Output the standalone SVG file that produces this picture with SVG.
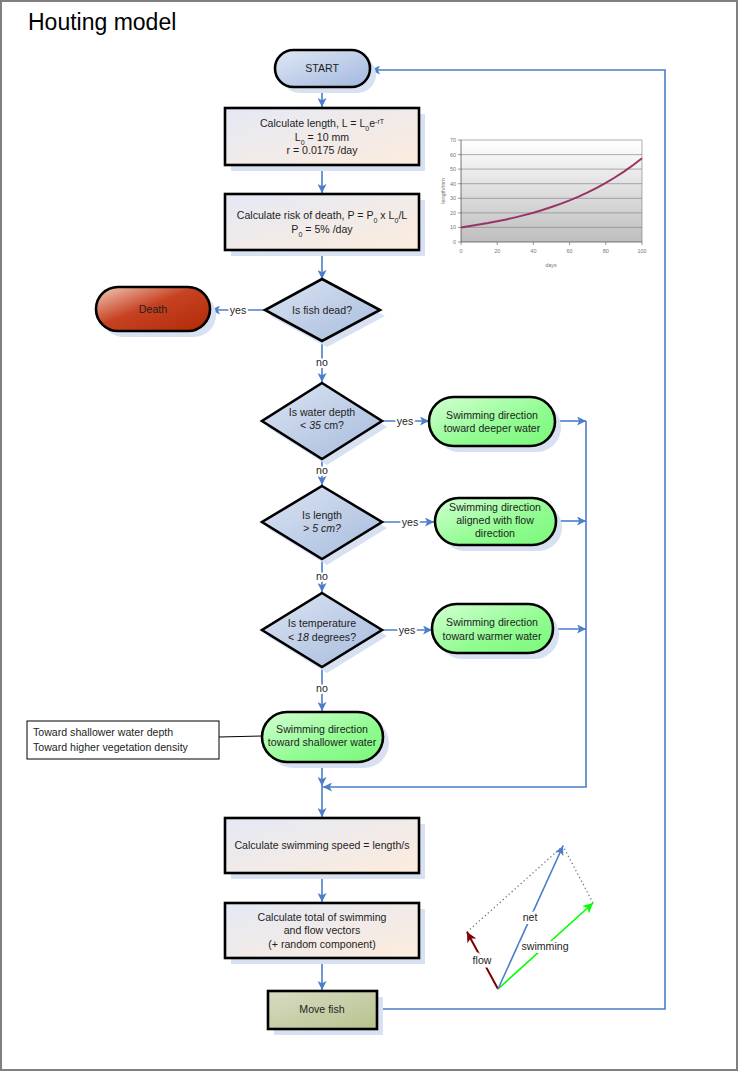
<svg xmlns="http://www.w3.org/2000/svg" width="739" height="1072" viewBox="0 0 739 1072">
<defs>
<style>
text{font-family:"Liberation Sans",Arial,sans-serif;font-size:10.6px;fill:#1e1e1e}
.c{text-anchor:middle}
.nd{stroke:#000;stroke-width:2.6}
.sh{fill:#D8E1F1}
.cn{fill:none;stroke:#4A7EC8;stroke-width:1.6}
.lb{paint-order:stroke;stroke:#fff;stroke-width:4px;stroke-linejoin:round}
.tk text{font-size:5.5px;fill:#777}
.gl{stroke:#7a7a7a;stroke-width:0.6}
</style>
<linearGradient id="gBox" x1="0" y1="0" x2="1" y2="1"><stop offset="0" stop-color="#E4E9F5"/><stop offset="1" stop-color="#FDECDD"/></linearGradient>
<linearGradient id="gDia" x1="0" y1="0" x2="1" y2="1"><stop offset="0" stop-color="#DCE4F2"/><stop offset="1" stop-color="#A6BBDD"/></linearGradient>
<linearGradient id="gGrn" x1="0" y1="0" x2="1" y2="1"><stop offset="0" stop-color="#D4FFD4"/><stop offset="0.6" stop-color="#90FC90"/><stop offset="1" stop-color="#7AF87A"/></linearGradient>
<linearGradient id="gSt" x1="0" y1="0" x2="1" y2="1"><stop offset="0" stop-color="#E0E8F4"/><stop offset="1" stop-color="#A2B8DF"/></linearGradient>
<linearGradient id="gDe" x1="0" y1="0" x2="1" y2="1"><stop offset="0" stop-color="#F4CDBB"/><stop offset="0.45" stop-color="#C64222"/><stop offset="1" stop-color="#B02A06"/></linearGradient>
<linearGradient id="gMv" x1="0" y1="0" x2="1" y2="1"><stop offset="0" stop-color="#D9DCC4"/><stop offset="1" stop-color="#B6C28E"/></linearGradient>
<linearGradient id="gPlot" x1="0" y1="0" x2="0" y2="1"><stop offset="0" stop-color="#FFFFFF"/><stop offset="1" stop-color="#BEBEBE"/></linearGradient>
<marker id="aB" viewBox="0 0 10 10" refX="10" refY="5" markerWidth="10" markerHeight="9" markerUnits="userSpaceOnUse" orient="auto"><path d="M0,0 L10,5 L0,10 L2.5,5 Z" fill="#4A7EC8"/></marker>
<marker id="aR" viewBox="0 0 10 10" refX="10" refY="5" markerWidth="10" markerHeight="10" markerUnits="userSpaceOnUse" orient="auto"><path d="M0,0 L10,5 L0,10 L2.5,5 Z" fill="#7F0000"/></marker>
<marker id="aG" viewBox="0 0 10 10" refX="10" refY="5" markerWidth="11" markerHeight="10" markerUnits="userSpaceOnUse" orient="auto"><path d="M0,0 L10,5 L0,10 L2.5,5 Z" fill="#00FF00"/></marker>
</defs>
<rect x="0" y="0" width="739" height="1072" fill="#fff"/>
<rect x="1" y="1" width="736" height="1069" fill="none" stroke="#808080" stroke-width="2"/>
<text x="28" y="30" style="font-size:23px;fill:#000">Houting model</text>

<g id="connectors">
<path class="cn" d="M322,87 V107" marker-end="url(#aB)"/>
<path class="cn" d="M322,165 V193" marker-end="url(#aB)"/>
<path class="cn" d="M322,250 V279" marker-end="url(#aB)"/>
<path class="cn" d="M265,310 H211" marker-end="url(#aB)"/>
<path class="cn" d="M322,341 V382" marker-end="url(#aB)"/>
<path class="cn" d="M382,421 H429" marker-end="url(#aB)"/>
<path class="cn" d="M322,459 V485" marker-end="url(#aB)"/>
<path class="cn" d="M382,522 H434" marker-end="url(#aB)"/>
<path class="cn" d="M322,559 V592" marker-end="url(#aB)"/>
<path class="cn" d="M382,630 H432" marker-end="url(#aB)"/>
<path class="cn" d="M322,667 V711" marker-end="url(#aB)"/>
<path class="cn" d="M555,421 H586" marker-end="url(#aB)"/>
<path class="cn" d="M556,521 H586" marker-end="url(#aB)"/>
<path class="cn" d="M553,629 H586" marker-end="url(#aB)"/>
<path class="cn" d="M586,421 V787 H323" marker-end="url(#aB)"/>
<path class="cn" d="M322,762 V786" marker-end="url(#aB)"/>
<path class="cn" d="M322,786 V817" marker-end="url(#aB)"/>
<path class="cn" d="M322,873 V902" marker-end="url(#aB)"/>
<path class="cn" d="M322,958 V990" marker-end="url(#aB)"/>
<path class="cn" d="M377,1009 H665 V70 H371" marker-end="url(#aB)"/>
<path d="M219,737 L262,736" stroke="#000" stroke-width="1"/>
<text class="c lb" x="238" y="314">yes</text>
<text class="c lb" x="405" y="425">yes</text>
<text class="c lb" x="410" y="526">yes</text>
<text class="c lb" x="407" y="634">yes</text>
<text class="c lb" x="322" y="366">no</text>
<text class="c lb" x="322" y="474">no</text>
<text class="c lb" x="322" y="580">no</text>
<text class="c lb" x="322" y="692">no</text>
</g>

<g id="start">
<rect class="sh" x="281" y="56" width="95" height="37" rx="18.5"/>
<rect class="nd" x="275" y="50" width="95" height="37" rx="18.5" fill="url(#gSt)"/>
<text class="c" x="322" y="72">START</text>
</g>

<g id="calc-length">
<rect class="sh" x="231" y="114" width="194" height="57"/>
<rect class="nd" x="225" y="108" width="194" height="57" fill="url(#gBox)"/>
<text class="c" x="322" y="127">Calculate length, L = L<tspan font-size="7" baseline-shift="sub">0</tspan>e<tspan font-size="7" baseline-shift="super">-rT</tspan></text>
<text class="c" x="322" y="141">L<tspan font-size="7" baseline-shift="sub">0</tspan> = 10 mm</text>
<text class="c" x="322" y="154">r = 0.0175 /day</text>
</g>

<g id="calc-risk">
<rect class="sh" x="231" y="200" width="194" height="56"/>
<rect class="nd" x="225" y="194" width="194" height="56" fill="url(#gBox)"/>
<text class="c" x="322" y="219">Calculate risk of death, P = P<tspan font-size="7" baseline-shift="sub">0</tspan> x L<tspan font-size="7" baseline-shift="sub">0</tspan>/L</text>
<text class="c" x="322" y="233">P<tspan font-size="7" baseline-shift="sub">0</tspan> = 5% /day</text>
</g>

<g id="growth-chart">
<rect x="461" y="140" width="181" height="102" fill="url(#gPlot)"/>
<g class="gl">
<line x1="461" y1="140" x2="642" y2="140"/>
<line x1="461" y1="154.6" x2="642" y2="154.6"/>
<line x1="461" y1="169.1" x2="642" y2="169.1"/>
<line x1="461" y1="183.7" x2="642" y2="183.7"/>
<line x1="461" y1="198.3" x2="642" y2="198.3"/>
<line x1="461" y1="212.9" x2="642" y2="212.9"/>
<line x1="461" y1="227.4" x2="642" y2="227.4"/>
<line x1="642" y1="140" x2="642" y2="242"/>
</g>
<path d="M461,140 V242 H642" fill="none" stroke="#555" stroke-width="0.8"/>
<path d="M458,140 H461 M458,154.6 H461 M458,169.1 H461 M458,183.7 H461 M458,198.3 H461 M458,212.9 H461 M458,227.4 H461 M458,242 H461 M461,242 V245 M497.2,242 V245 M533.4,242 V245 M569.6,242 V245 M605.8,242 V245 M642,242 V245" stroke="#555" stroke-width="0.6"/>
<polyline points="461,227.4 470,226.1 479.1,224.6 488.1,223.1 497.2,221.3 506.2,219.5 515.3,217.4 524.3,215.1 533.4,212.7 542.4,210 551.5,207 560.5,203.9 569.6,200.4 578.6,196.6 587.7,192.4 596.7,187.9 605.8,182.9 614.8,177.5 623.9,171.6 632.9,165.2 642,158.2" fill="none" stroke="#993366" stroke-width="2"/>
<g class="tk" text-anchor="end">
<text x="456" y="142">70</text><text x="456" y="156.6">60</text><text x="456" y="171.1">50</text><text x="456" y="185.7">40</text><text x="456" y="200.3">30</text><text x="456" y="214.9">20</text><text x="456" y="229.4">10</text><text x="456" y="244">0</text>
</g>
<g class="tk" text-anchor="middle">
<text x="461" y="253">0</text><text x="497.2" y="253">20</text><text x="533.4" y="253">40</text><text x="569.6" y="253">60</text><text x="605.8" y="253">80</text><text x="642" y="253">100</text>
<text x="551" y="267">days</text>
<text x="0" y="0" transform="translate(445,191) rotate(-90)">length/mm</text>
</g>
</g>

<g id="is-dead">
<polygon class="sh" points="327,285 385,316 327,347 270,316"/>
<polygon class="nd" points="322,279 380,310 322,341 265,310" fill="url(#gDia)"/>
<text class="c" x="322" y="314">Is fish dead?</text>
</g>

<g id="death">
<rect class="sh" x="101" y="293" width="115" height="44" rx="22"/>
<rect class="nd" x="96" y="287" width="114" height="44" rx="22" fill="url(#gDe)"/>
<text class="c" x="153" y="313">Death</text>
</g>

<g id="is-depth">
<polygon class="sh" points="327,389 387,427 327,465 267,427"/>
<polygon class="nd" points="322,383 382,421 322,459 262,421" fill="url(#gDia)"/>
<text class="c" x="322" y="416">Is water depth</text>
<text class="c" x="322" y="429">&lt; <tspan font-style="italic">35</tspan> cm?</text>
</g>

<g id="swim-deeper">
<rect class="sh" x="435" y="403" width="126" height="49" rx="24.5"/>
<rect class="nd" x="429" y="397" width="126" height="49" rx="24.5" fill="url(#gGrn)"/>
<text class="c" x="492" y="419">Swimming direction</text>
<text class="c" x="492" y="432">toward deeper water</text>
</g>

<g id="is-length">
<polygon class="sh" points="327,492 387,528 327,565 267,528"/>
<polygon class="nd" points="322,486 382,522 322,559 262,522" fill="url(#gDia)"/>
<text class="c" x="322" y="519">Is length</text>
<text class="c" x="322" y="532" font-style="italic">&gt; 5 cm?</text>
</g>

<g id="swim-flow">
<rect class="sh" x="441" y="504" width="121" height="47" rx="23.5"/>
<rect class="nd" x="435" y="498" width="121" height="47" rx="23.5" fill="url(#gGrn)"/>
<text class="c" x="495" y="511">Swimming direction</text>
<text class="c" x="495" y="524">aligned with flow</text>
<text class="c" x="495" y="537">direction</text>
</g>

<g id="is-temp">
<polygon class="sh" points="327,599 387,636 327,673 267,636"/>
<polygon class="nd" points="322,593 382,630 322,667 262,630" fill="url(#gDia)"/>
<text class="c" x="322" y="627">Is temperature</text>
<text class="c" x="322" y="641">&lt; <tspan font-style="italic">18</tspan> degrees?</text>
</g>

<g id="swim-warmer">
<rect class="sh" x="438" y="610" width="121" height="49" rx="24.5"/>
<rect class="nd" x="432" y="604" width="121" height="49" rx="24.5" fill="url(#gGrn)"/>
<text class="c" x="492" y="626">Swimming direction</text>
<text class="c" x="492" y="640">toward warmer water</text>
</g>

<g id="swim-shallower">
<rect class="sh" x="268" y="718" width="121" height="50" rx="25"/>
<rect class="nd" x="262" y="712" width="121" height="50" rx="25" fill="url(#gGrn)"/>
<text class="c" x="322" y="733">Swimming direction</text>
<text class="c" x="322" y="746">toward shallower water</text>
</g>

<g id="note">
<rect x="27" y="721" width="192" height="38" fill="#fff" stroke="#000" stroke-width="1"/>
<text x="33" y="736">Toward shallower water depth</text>
<text x="33" y="751">Toward higher vegetation density</text>
</g>

<g id="calc-speed">
<rect class="sh" x="231" y="824" width="194" height="55"/>
<rect class="nd" x="225" y="818" width="194" height="55" fill="url(#gBox)"/>
<text class="c" x="322" y="849">Calculate swimming speed = length/s</text>
</g>

<g id="calc-total">
<rect class="sh" x="231" y="909" width="194" height="55"/>
<rect class="nd" x="225" y="903" width="194" height="55" fill="url(#gBox)"/>
<text class="c" x="322" y="921">Calculate total of swimming</text>
<text class="c" x="322" y="934">and flow vectors</text>
<text class="c" x="322" y="948">(+ random component)</text>
</g>

<g id="move-fish">
<rect class="sh" x="274" y="997" width="109" height="38"/>
<rect class="nd" x="268" y="991" width="109" height="38" fill="url(#gMv)"/>
<text class="c" x="322" y="1013">Move fish</text>
</g>

<g id="vector-diagram">
<path d="M467,932 L563,846 L593,903" fill="none" stroke="#777" stroke-width="1.3" stroke-dasharray="1.3 2.7"/>
<line x1="498" y1="989" x2="467" y2="932" stroke="#7F0000" stroke-width="2" marker-end="url(#aR)"/>
<line x1="498" y1="989" x2="593" y2="903" stroke="#00FF00" stroke-width="1.6" marker-end="url(#aG)"/>
<line x1="498" y1="989" x2="563" y2="846" stroke="#4A7EC8" stroke-width="1.6" marker-end="url(#aB)"/>
<text class="c lb" x="530" y="921" style="stroke-width:6px">net</text>
<text class="c lb" x="545" y="950" style="stroke-width:6px">swimming</text>
<text class="c lb" x="482" y="964" style="stroke-width:7px">flow</text>
</g>
</svg>
